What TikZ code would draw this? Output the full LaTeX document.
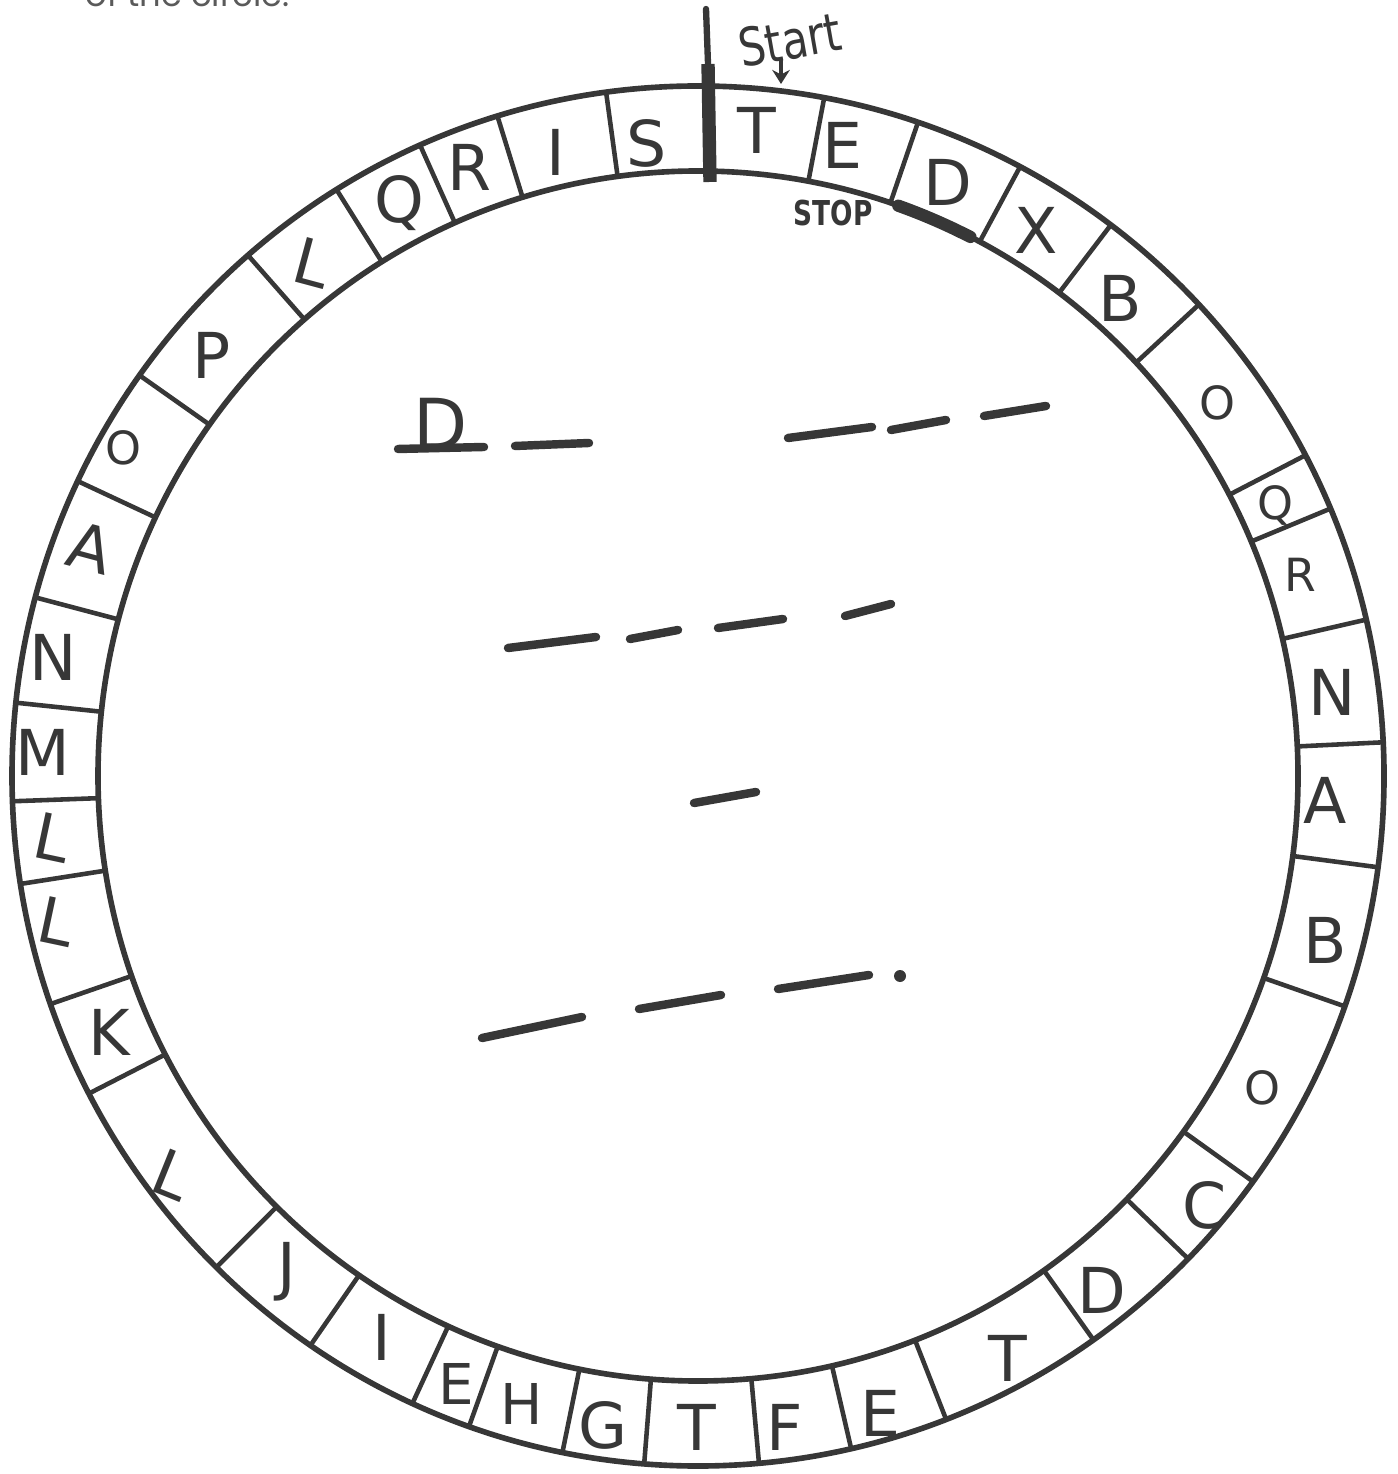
\documentclass[tikz,border=0pt]{standalone}
\usepackage{fontspec}
\setmainfont{DejaVu Sans}
\newfontfamily\notefont{Poppins}
\usetikzlibrary{arrows.meta}
\definecolor{Ink}{RGB}{55,55,55}
\definecolor{Pencil}{RGB}{90,90,90}

\begin{document}
\begin{tikzpicture}[x=0.01cm, y=-0.01cm,
  rim/.style={draw=Ink, line width=1.6pt},
  wall/.style={draw=Ink, line width=1.3pt, line cap=round},
  letter/.style={text=Ink, inner sep=0pt, font=\fontsize{18}{18}\selectfont},
  small letter/.style={letter, font=\fontsize{13}{13}\selectfont},
  narrow letter/.style={letter, font=\fontsize{16}{16}\selectfont},
  blank/.style={draw=Ink, line width=2.4pt, line cap=round}]
\useasboundingbox (0,0) rectangle (1397,1474);
\node[anchor=base west, inner sep=0pt, text=Pencil, font=\notefont\fontsize{9.6}{9.6}\selectfont] (note) at (85,7) {of the circle.};
\draw[rim] (698,776) ellipse [x radius=686, y radius=690];
\draw[rim] (698,776) ellipse [x radius=600, y radius=605];
\foreach \a in {97.7,107,113.9,121.8,131,144.5,154.7,165,173.9,182.1,189,199.3,207.4,225.4,235.6,245.4,250.5,258.6,265.5,275.1,282.9,291.2,305.2,315.6,324,340.5,352.4,362.8,373.1,382.8,387.7,403.1,413,422,431.3,439.4}
  \draw[wall] ({698+600*cos(\a)},{776-605*sin(\a)}) -- ({698+686*cos(\a)},{776-690*sin(\a)});
\draw[Ink, line width=1.8pt, line cap=round] (706,9) -- (708,64);
\draw[Ink, line width=3.8pt] (708,64) -- (710,182);
\draw[Ink, line width=3.5pt, line cap=round] plot[domain=70.5:63, samples=12] ({698+600*cos(\x)},{776-605*sin(\x)});
\foreach \x/\y/\t/\r [count=\i] in {647/143/S/0,556/152/I/0,469/167/R/0,399/203/Q/0,312/263/L/-15,212/355/P/0,90/548/A/-15,53/657/N/0,43/752/M/0,53/838/L/-12,57/922/L/-12,109/1032/K/0,172/1175/L/-22,287/1272/J/0,382/1337/I/0,603/1425/G/0,697/1427/T/0,785/1427/F/0,880/1413/E/0,1008/1358/T/0,1102/1290/D/0,1205/1205/C/0,1325/940/B/0,1325/800/A/0,1332/692/N/0,1120/298/B/0,1036/230/X/0,948/182/D/0,842/145/E/0,757/130/T/0}
  \node[letter, rotate=\r] (cell\i) at (\x,\y) {\t};
\node[narrow letter] (cellE) at (456,1384) {E};
\node[narrow letter] (cellH) at (522,1404) {H};
\foreach \x/\y/\t [count=\i] in {123/448/O,1262/1088/O,1300/575/R,1275/505/Q,1217/403/O}
  \node[small letter] (tiny\i) at (\x,\y) {\t};
\node[text=Ink, rotate=10, xscale=.8, font=\fontsize{15}{15}\selectfont] (start) at (790,40) {Start};
\coordinate (startpt) at (781,84);
\draw[-{Stealth[length=4pt,width=5pt]}, Ink, line width=1.2pt] (781,60) -- (startpt);
\node[text=Ink, yscale=1.3, font=\bfseries\fontsize{7.5}{7.5}\selectfont] (stop) at (833,213) {STOP};
\node[letter, font=\fontsize{20}{20}\selectfont] (first) at (441,424) {D};
\draw[blank] (398,449) -- (484,447);
\draw[blank] (515,446) -- (589,443);
\draw[blank] (788,438) -- (872,427);
\draw[blank] (891,430) -- (946,420);
\draw[blank] (984,416) -- (1046,406);
\draw[blank] (508,648) -- (596,637);
\draw[blank] (630,639) -- (678,630);
\draw[blank] (718,628) -- (783,619);
\draw[blank] (845,616) -- (891,604);
\draw[blank] (694,803) -- (756,792);
\draw[blank] (482,1038) -- (582,1017);
\draw[blank] (639,1009) -- (721,995);
\draw[blank] (778,989) -- (869,975);
\fill[Ink] (900,976) circle [radius=6];
\end{tikzpicture}
\end{document}
